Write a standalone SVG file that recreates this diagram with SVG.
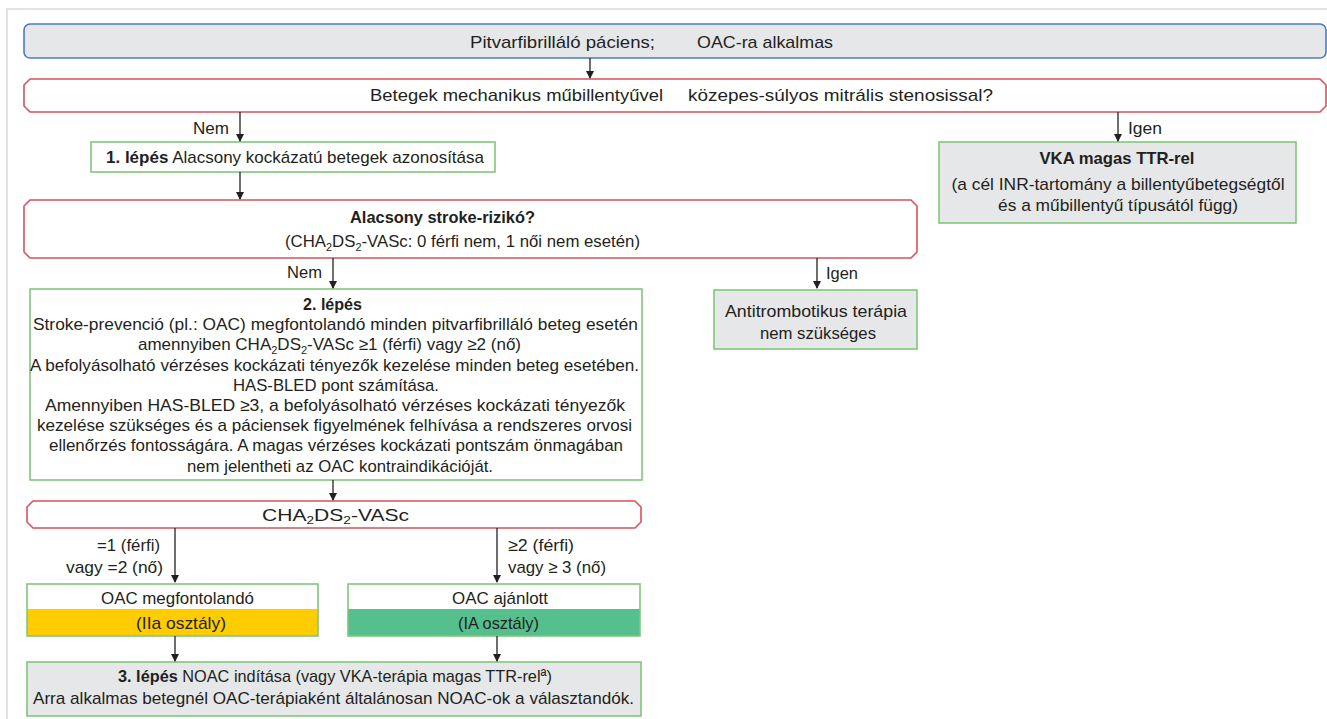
<svg xmlns="http://www.w3.org/2000/svg" width="1327" height="719" viewBox="0 0 1327 719">
<defs>
<style>
text{font-family:"Liberation Sans",Arial,sans-serif;font-size:17px;fill:#231f20}
.b{font-weight:bold}
.c{text-anchor:middle}
.sub{font-size:11px}
.blue{fill:#e6e7e8;stroke:#4a7bcb;stroke-width:1.6}
.red{fill:#fff;stroke:#d9525c;stroke-width:1.6}
.gw{fill:#fff;stroke:#80c77a;stroke-width:1.6}
.gg{fill:#e6e7e8;stroke:#80c77a;stroke-width:1.6}
.ln{stroke:#231f20;stroke-width:1.3;fill:none;marker-end:url(#ah)}
</style>
<marker id="ah" markerWidth="8" markerHeight="9" refX="7" refY="4.5" orient="auto" markerUnits="userSpaceOnUse">
<path d="M0,0.5 L8,4.5 L0,8.5 Z" fill="#231f20"/>
</marker>
</defs>
<rect width="1327" height="719" fill="#fff"/>
<path d="M7,719 V9 H1327" fill="none" stroke="#e3e3e3" stroke-width="2"/>

<g id="start">
<rect class="blue" x="24" y="24" width="1302" height="34" rx="6"/>
<text x="470" y="48" textLength="185" lengthAdjust="spacingAndGlyphs">Pitvarfibrilláló páciens;</text>
<text x="697" y="48" textLength="136" lengthAdjust="spacingAndGlyphs">OAC-ra alkalmas</text>
</g>

<g id="q1">
<path class="red" d="M30,79 H1320 L1326,85 V106 L1320,112 H30 L24,106 V85 Z"/>
<text x="370" y="101" textLength="293" lengthAdjust="spacingAndGlyphs">Betegek mechanikus műbillentyűvel</text>
<text x="688" y="101" textLength="305" lengthAdjust="spacingAndGlyphs">közepes-súlyos mitrális stenosissal?</text>
</g>

<g id="step1">
<rect class="gw" x="91" y="142" width="404" height="30"/>
<text x="106" y="163" textLength="378" lengthAdjust="spacingAndGlyphs"><tspan class="b">1. lépés</tspan> Alacsony kockázatú betegek azonosítása</text>
</g>

<g id="vka">
<rect class="gg" x="939" y="142" width="357" height="81"/>
<text class="c b" x="1117" y="164" textLength="155" lengthAdjust="spacingAndGlyphs">VKA magas TTR-rel</text>
<text class="c" x="1118" y="190" textLength="333" lengthAdjust="spacingAndGlyphs">(a cél INR-tartomány a billentyűbetegségtől</text>
<text class="c" x="1118" y="211" textLength="240" lengthAdjust="spacingAndGlyphs">és a műbillentyű típusától függ)</text>
</g>

<g id="q2">
<path class="red" d="M30,200 H911 L917,206 V252 L911,258 H30 L24,252 V206 Z"/>
<text x="350" y="223" class="b" textLength="185" lengthAdjust="spacingAndGlyphs">Alacsony stroke-rizikó?</text>
<text x="285" y="247" textLength="355" lengthAdjust="spacingAndGlyphs">(CHA<tspan class="sub" baseline-shift="-4">2</tspan>DS<tspan class="sub" baseline-shift="-4">2</tspan>-VASc: 0 férfi nem, 1 női nem esetén)</text>
</g>

<g id="antitromb">
<rect class="gg" x="714" y="290" width="203" height="59"/>
<text class="c" x="816" y="317" textLength="182" lengthAdjust="spacingAndGlyphs">Antitrombotikus terápia</text>
<text class="c" x="818" y="339" textLength="116" lengthAdjust="spacingAndGlyphs">nem szükséges</text>
</g>

<g id="step2">
<rect class="gw" x="30" y="289" width="612" height="191"/>
<text x="303" y="310" class="b" textLength="59" lengthAdjust="spacingAndGlyphs">2. lépés</text>
<text x="33" y="330" textLength="605" lengthAdjust="spacingAndGlyphs">Stroke-prevenció (pl.: OAC) megfontolandó minden pitvarfibrilláló beteg esetén</text>
<text x="138" y="350" textLength="383" lengthAdjust="spacingAndGlyphs">amennyiben CHA<tspan class="sub" baseline-shift="-4">2</tspan>DS<tspan class="sub" baseline-shift="-4">2</tspan>-VASc ≥1 (férfi) vagy ≥2 (nő)</text>
<text x="30" y="371" textLength="609" lengthAdjust="spacingAndGlyphs">A befolyásolható vérzéses kockázati tényezők kezelése minden beteg esetében.</text>
<text x="233" y="391" textLength="206" lengthAdjust="spacingAndGlyphs">HAS-BLED pont számítása.</text>
<text x="45" y="411" textLength="580" lengthAdjust="spacingAndGlyphs">Amennyiben HAS-BLED ≥3, a befolyásolható vérzéses kockázati tényezők</text>
<text x="37" y="431" textLength="595" lengthAdjust="spacingAndGlyphs">kezelése szükséges és a páciensek figyelmének felhívása a rendszeres orvosi</text>
<text x="49" y="451" textLength="574" lengthAdjust="spacingAndGlyphs">ellenőrzés fontosságára. A magas vérzéses kockázati pontszám önmagában</text>
<text x="187" y="472" textLength="306" lengthAdjust="spacingAndGlyphs">nem jelentheti az OAC kontraindikációját.</text>
</g>

<g id="q3">
<path class="red" d="M33,501 H635 L641,507 V522 L635,528 H33 L27,522 V507 Z"/>
<text x="262" y="521" font-size="16" textLength="147" lengthAdjust="spacingAndGlyphs">CHA<tspan class="sub" baseline-shift="-3">2</tspan>DS<tspan class="sub" baseline-shift="-3">2</tspan>-VASc</text>
</g>

<g id="oac1">
<rect x="27" y="584" width="291" height="25" fill="#fff"/>
<rect x="27" y="609" width="291" height="27" fill="#ffcc00"/>
<rect x="27" y="584" width="291" height="52" fill="none" stroke="#80c77a" stroke-width="1.6"/>
<text x="101" y="604" textLength="153" lengthAdjust="spacingAndGlyphs">OAC megfontolandó</text>
<text x="136" y="629" textLength="90" lengthAdjust="spacingAndGlyphs">(IIa osztály)</text>
</g>

<g id="oac2">
<rect x="348" y="584" width="292" height="25" fill="#fff"/>
<rect x="348" y="609" width="292" height="27" fill="#55bf8d"/>
<rect x="348" y="584" width="292" height="52" fill="none" stroke="#80c77a" stroke-width="1.6"/>
<text x="452" y="604" textLength="96" lengthAdjust="spacingAndGlyphs">OAC ajánlott</text>
<text x="458" y="629" textLength="81" lengthAdjust="spacingAndGlyphs">(IA osztály)</text>
</g>

<g id="step3">
<rect class="gg" x="27" y="662" width="614" height="54"/>
<text x="118" y="682" textLength="434" lengthAdjust="spacingAndGlyphs"><tspan class="b">3. lépés</tspan> NOAC indítása (vagy VKA-terápia magas TTR-relª)</text>
<text x="33" y="704" textLength="601" lengthAdjust="spacingAndGlyphs">Arra alkalmas betegnél OAC-terápiaként általánosan NOAC-ok a választandók.</text>
</g>

<g id="connectors">
<line class="ln" x1="590" y1="58" x2="590" y2="78"/>
<line class="ln" x1="240" y1="112" x2="240" y2="141"/>
<line class="ln" x1="1118" y1="112" x2="1118" y2="141"/>
<line class="ln" x1="240" y1="172" x2="240" y2="199"/>
<line class="ln" x1="333" y1="258" x2="333" y2="288"/>
<line class="ln" x1="817" y1="258" x2="817" y2="288"/>
<line class="ln" x1="333" y1="480" x2="333" y2="500"/>
<line class="ln" x1="175" y1="528" x2="175" y2="582"/>
<line class="ln" x1="497" y1="528" x2="497" y2="582"/>
<line class="ln" x1="175" y1="636" x2="175" y2="661"/>
<line class="ln" x1="497" y1="636" x2="497" y2="661"/>
<text x="193" y="134" textLength="36" lengthAdjust="spacingAndGlyphs">Nem</text>
<text x="1128" y="134" textLength="34" lengthAdjust="spacingAndGlyphs">Igen</text>
<text x="287" y="278" textLength="35" lengthAdjust="spacingAndGlyphs">Nem</text>
<text x="826" y="279" textLength="32" lengthAdjust="spacingAndGlyphs">Igen</text>
<text x="97" y="551" textLength="63" lengthAdjust="spacingAndGlyphs">=1 (férfi)</text>
<text x="66" y="573" textLength="97" lengthAdjust="spacingAndGlyphs">vagy =2 (nő)</text>
<text x="508" y="551" textLength="66" lengthAdjust="spacingAndGlyphs">≥2 (férfi)</text>
<text x="508" y="573" textLength="98" lengthAdjust="spacingAndGlyphs">vagy ≥ 3 (nő)</text>
</g>
</svg>
